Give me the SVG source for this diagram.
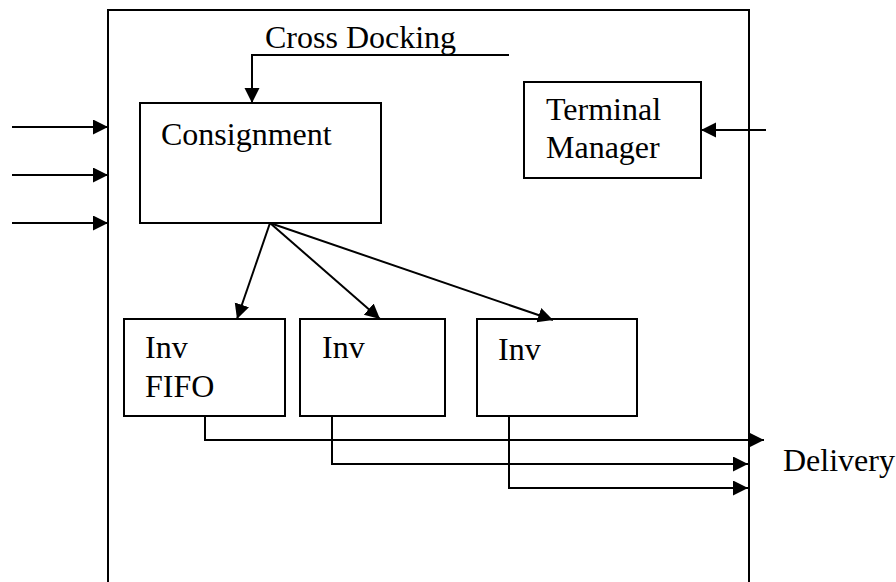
<svg xmlns="http://www.w3.org/2000/svg" width="896" height="582" viewBox="0 0 896 582">
<style>
.box{fill:#fff;stroke:#000;stroke-width:2}
.ln{fill:none;stroke:#000;stroke-width:2}
text{font-family:"Liberation Serif","Times New Roman",serif;font-size:32px;fill:#000}
</style>
<defs>
<marker id="ah" markerUnits="userSpaceOnUse" markerWidth="16" markerHeight="16" refX="15" refY="7.5" orient="auto">
<path d="M0,0 L15,7.5 L0,15 z" fill="#000"/>
</marker>
</defs>
<rect width="896" height="582" fill="#fff"/>
<g id="terminal">
<rect x="108" y="10" width="641" height="600" class="box"/>
</g>
<g id="consignment">
<rect x="140" y="103" width="241" height="120" class="box"/>
<text x="161" y="145">Consignment</text>
</g>
<g id="terminal-manager">
<rect x="524" y="82" width="177" height="96" class="box"/>
<text x="546" y="120">Terminal</text>
<text x="546" y="158">Manager</text>
</g>
<g id="inv1">
<rect x="124" y="319" width="161" height="97" class="box"/>
<text x="145" y="358">Inv</text>
<text x="145" y="397">FIFO</text>
</g>
<g id="inv2">
<rect x="300" y="319" width="145" height="97" class="box"/>
<text x="322" y="358">Inv</text>
</g>
<g id="inv3">
<rect x="477" y="319" width="160" height="97" class="box"/>
<text x="498" y="360">Inv</text>
</g>
<g id="labels">
<text x="265" y="48">Cross Docking</text>
<text x="783" y="471">Delivery</text>
</g>
<g id="connectors">
<path class="ln" d="M509,55 H252 V103" marker-end="url(#ah)"/>
<path class="ln" d="M12,127 H108" marker-end="url(#ah)"/>
<path class="ln" d="M12,175 H108" marker-end="url(#ah)"/>
<path class="ln" d="M12,223 H108" marker-end="url(#ah)"/>
<path class="ln" d="M766,130 H701" marker-end="url(#ah)"/>
<path class="ln" d="M270,223 L237,319" marker-end="url(#ah)"/>
<path class="ln" d="M270,223 L380,319" marker-end="url(#ah)"/>
<path class="ln" d="M270,223 L553,320" marker-end="url(#ah)"/>
<path class="ln" d="M205,416 V440 H764" marker-end="url(#ah)"/>
<path class="ln" d="M332,416 V464 H748" marker-end="url(#ah)"/>
<path class="ln" d="M509,416 V488 H748" marker-end="url(#ah)"/>
</g>
</svg>
